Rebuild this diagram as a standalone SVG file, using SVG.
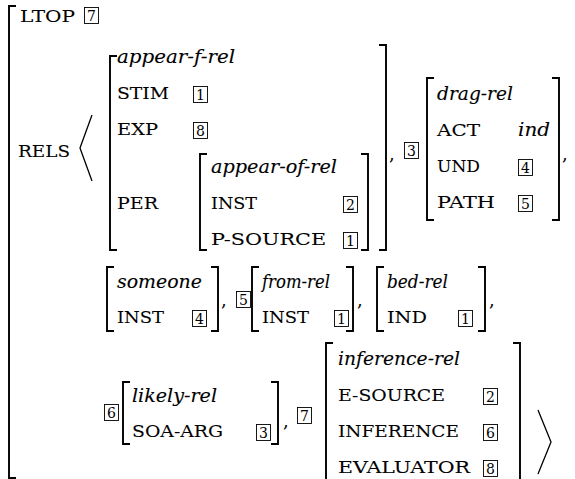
<svg xmlns="http://www.w3.org/2000/svg" width="575" height="479" viewBox="0 0 575 479">
<style>
.sc{font-family:"DejaVu Serif","Liberation Serif",serif;font-size:16px;fill:#000;stroke:#000;stroke-width:0.08}
.it{font-family:"DejaVu Serif","Liberation Serif",serif;font-style:italic;font-size:19px;fill:#000;stroke:#000;stroke-width:0.12}
.pn{font-family:"DejaVu Serif","Liberation Serif",serif;font-size:18px;fill:#000}
.num{font-family:"DejaVu Serif","Liberation Serif",serif;font-size:14px;fill:#000;text-anchor:middle}
.br{fill:none;stroke:#000;stroke-width:1.9}
.ang{fill:none;stroke:#000;stroke-width:1.3}
.box{fill:none;stroke:#000;stroke-width:0.9}
</style>
<defs>
<g id="b1"><rect class="box" x="-0.5" y="-0.5" width="14" height="16"/><text class="num" x="6.5" y="12.5">1</text></g>
<g id="b2"><rect class="box" x="-0.5" y="-0.5" width="14" height="16"/><text class="num" x="6.5" y="12.5">2</text></g>
<g id="b3"><rect class="box" x="-0.5" y="-0.5" width="14" height="16"/><text class="num" x="6.5" y="12.5">3</text></g>
<g id="b4"><rect class="box" x="-0.5" y="-0.5" width="14" height="16"/><text class="num" x="6.5" y="12.5">4</text></g>
<g id="b5"><rect class="box" x="-0.5" y="-0.5" width="14" height="16"/><text class="num" x="6.5" y="12.5">5</text></g>
<g id="b6"><rect class="box" x="-0.5" y="-0.5" width="14" height="16"/><text class="num" x="6.5" y="12.5">6</text></g>
<g id="b7"><rect class="box" x="-0.5" y="-0.5" width="14" height="16"/><text class="num" x="6.5" y="12.5">7</text></g>
<g id="b8"><rect class="box" x="-0.5" y="-0.5" width="14" height="16"/><text class="num" x="6.5" y="12.5">8</text></g>
</defs>

<g id="outer">
<path class="br" d="M16,6 H9 V478 H16"/>
<text class="sc" x="20" y="22" textLength="55" lengthAdjust="spacingAndGlyphs">LTOP</text>
<use href="#b7" x="85" y="8"/>
<text class="sc" x="18" y="157" textLength="52" lengthAdjust="spacingAndGlyphs">RELS</text>
<polyline class="ang" points="92,115 80,148 92,181"/>
<polyline class="ang" points="538,410 551,442 538,474"/>
</g>

<g id="appear-f-rel">
<path class="br" d="M117,56 H110 V250 H117"/>
<path class="br" d="M379,45 H386 V250 H379"/>
<text class="it" x="117" y="63" textLength="118" lengthAdjust="spacingAndGlyphs">appear-f-rel</text>
<text class="sc" x="117" y="99" textLength="52" lengthAdjust="spacingAndGlyphs">STIM</text>
<use href="#b1" x="194" y="87"/>
<text class="sc" x="117" y="135" textLength="41" lengthAdjust="spacingAndGlyphs">EXP</text>
<use href="#b8" x="194" y="123"/>
<text class="sc" x="117" y="209" textLength="41" lengthAdjust="spacingAndGlyphs">PER</text>
</g>

<g id="appear-of-rel">
<path class="br" d="M207,154 H200 V250 H207"/>
<path class="br" d="M361,154 H368 V250 H361"/>
<text class="it" x="211" y="173" textLength="126" lengthAdjust="spacingAndGlyphs">appear-of-rel</text>
<text class="sc" x="211" y="209" textLength="46" lengthAdjust="spacingAndGlyphs">INST</text>
<use href="#b2" x="344" y="197"/>
<text class="sc" x="211" y="245" textLength="115" lengthAdjust="spacingAndGlyphs">P-SOURCE</text>
<use href="#b1" x="344" y="233"/>
</g>

<g id="sep1">
<text class="pn" x="389" y="160">,</text>
<use href="#b3" x="405" y="143"/>
</g>

<g id="drag-rel">
<path class="br" d="M434,78 H427 V220 H434"/>
<path class="br" d="M552,78 H559 V220 H552"/>
<text class="it" x="437" y="100" textLength="76" lengthAdjust="spacingAndGlyphs">drag-rel</text>
<text class="sc" x="437" y="136" textLength="43" lengthAdjust="spacingAndGlyphs">ACT</text>
<text class="it" x="518" y="136" textLength="32" lengthAdjust="spacingAndGlyphs">ind</text>
<text class="sc" x="437" y="172" textLength="43" lengthAdjust="spacingAndGlyphs">UND</text>
<use href="#b4" x="519" y="160"/>
<text class="sc" x="437" y="208" textLength="58" lengthAdjust="spacingAndGlyphs">PATH</text>
<use href="#b5" x="519" y="196"/>
<text class="pn" x="562" y="160">,</text>
</g>

<g id="someone">
<path class="br" d="M114,267 H107 V331 H114"/>
<path class="br" d="M211,267 H218 V331 H211"/>
<text class="it" x="117" y="288" textLength="85" lengthAdjust="spacingAndGlyphs">someone</text>
<text class="sc" x="117" y="323" textLength="47" lengthAdjust="spacingAndGlyphs">INST</text>
<use href="#b4" x="193" y="311"/>
<text class="pn" x="221" y="306">,</text>
</g>

<g id="from-rel">
<use href="#b5" x="237" y="292"/>
<path class="br" d="M259,267 H252 V331 H259"/>
<path class="br" d="M346,267 H353 V331 H346"/>
<text class="it" x="262" y="288" textLength="68" lengthAdjust="spacingAndGlyphs">from-rel</text>
<text class="sc" x="262" y="323" textLength="47" lengthAdjust="spacingAndGlyphs">INST</text>
<use href="#b1" x="335" y="311"/>
<text class="pn" x="357" y="306">,</text>
</g>

<g id="bed-rel">
<path class="br" d="M384,267 H377 V331 H384"/>
<path class="br" d="M478,267 H485 V331 H478"/>
<text class="it" x="387" y="288" textLength="61" lengthAdjust="spacingAndGlyphs">bed-rel</text>
<text class="sc" x="387" y="323" textLength="40" lengthAdjust="spacingAndGlyphs">IND</text>
<use href="#b1" x="459" y="311"/>
<text class="pn" x="489" y="306">,</text>
</g>

<g id="likely-rel">
<use href="#b6" x="105" y="405"/>
<path class="br" d="M130,382 H123 V444 H130"/>
<path class="br" d="M271,382 H278 V444 H271"/>
<text class="it" x="132" y="402" textLength="85" lengthAdjust="spacingAndGlyphs">likely-rel</text>
<text class="sc" x="132" y="437" textLength="91" lengthAdjust="spacingAndGlyphs">SOA-ARG</text>
<use href="#b3" x="257" y="425"/>
<text class="pn" x="283" y="427">,</text>
</g>

<g id="inference-rel">
<use href="#b7" x="298" y="408"/>
<path class="br" d="M333,343 H326 V484"/>
<path class="br" d="M513,343 H520 V484"/>
<text class="it" x="338" y="365" textLength="122" lengthAdjust="spacingAndGlyphs">inference-rel</text>
<text class="sc" x="338" y="401" textLength="107" lengthAdjust="spacingAndGlyphs">E-SOURCE</text>
<use href="#b2" x="484" y="389"/>
<text class="sc" x="338" y="437" textLength="121" lengthAdjust="spacingAndGlyphs">INFERENCE</text>
<use href="#b6" x="484" y="425"/>
<text class="sc" x="338" y="473" textLength="132" lengthAdjust="spacingAndGlyphs">EVALUATOR</text>
<use href="#b8" x="484" y="461"/>
</g>
</svg>
